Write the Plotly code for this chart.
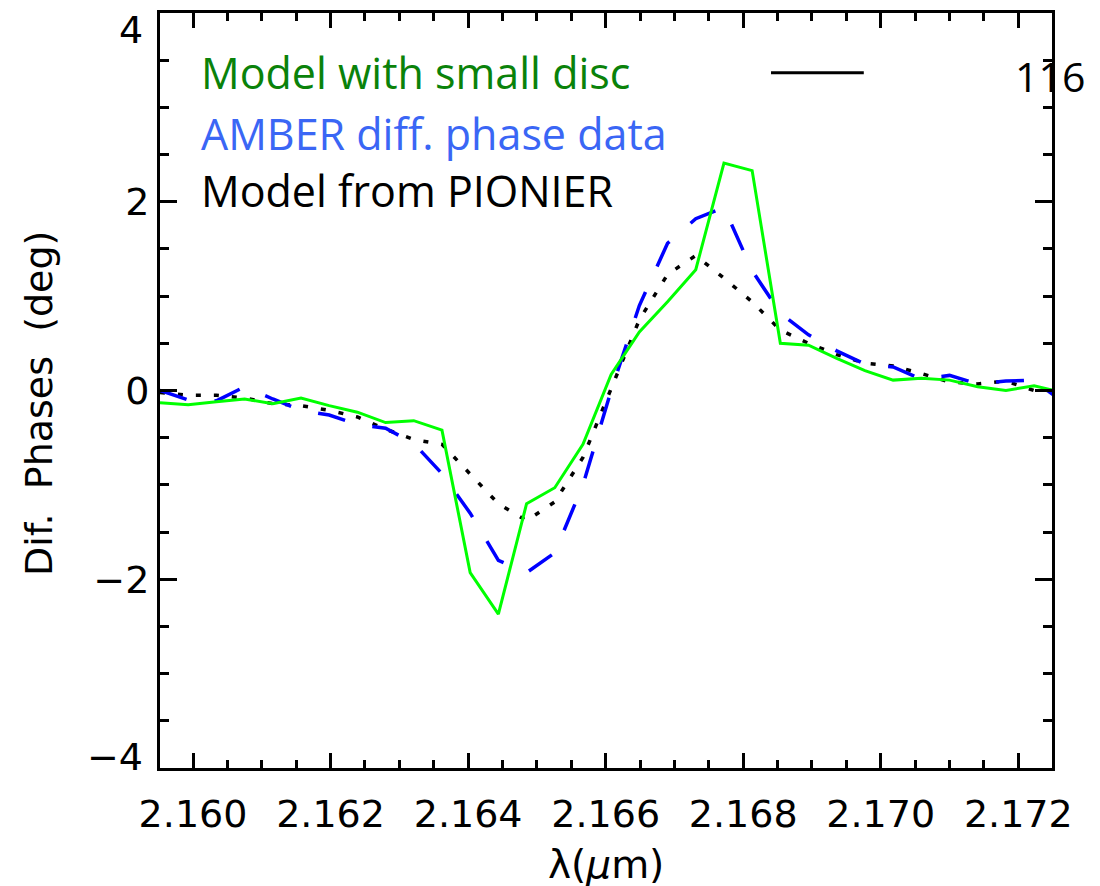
import plotly.graph_objects as go

# ---- data ----
wavelength_um = [2.15952, 2.15993, 2.16034, 2.16075, 2.16116, 2.16157, 2.16198, 2.16239,
                 2.16280, 2.16321, 2.16362, 2.16403, 2.16444, 2.16485, 2.16526, 2.16567,
                 2.16608, 2.16649, 2.16690, 2.16731, 2.16772, 2.16813, 2.16854, 2.16895,
                 2.16936, 2.16977, 2.17018, 2.17059, 2.17100, 2.17141, 2.17182, 2.17223,
                 2.17264]

model_small_disc = [-0.13, -0.15, -0.12, -0.09, -0.14, -0.08, -0.16, -0.23, -0.34, -0.32,
                    -0.42, -1.93, -2.37, -1.20, -1.03, -0.57, 0.17, 0.62, 0.94, 1.28,
                    2.41, 2.33, 0.50, 0.48, 0.34, 0.21, 0.11, 0.13, 0.11, 0.04,
                    0.00, 0.05, -0.02]

amber_data = [0.00, -0.10, -0.11, 0.04, -0.09, -0.21, -0.26, -0.36, -0.40, -0.56,
              -0.88, -1.30, -1.80, -1.93, -1.72, -1.00, 0.00, 0.90, 1.56, 1.82,
              1.94, 1.27, 0.82, 0.59, 0.42, 0.28, 0.25, 0.12, 0.16, 0.07,
              0.10, 0.11, -0.12]

model_pionier = [-0.02, -0.05, -0.05, -0.08, -0.14, -0.16, -0.21, -0.28, -0.41, -0.52,
                 -0.57, -0.89, -1.20, -1.38, -1.18, -0.71, 0.01, 0.75, 1.23, 1.43,
                 1.19, 0.94, 0.64, 0.50, 0.38, 0.29, 0.26, 0.18, 0.09, 0.07,
                 0.10, 0.00, 0.00]

x_ticks = [2.160, 2.162, 2.164, 2.166, 2.168, 2.170, 2.172]
y_ticks = [-4, -2, 0, 2, 4]
y_tick_text = ["", "\u22122", "0", "2", ""]

legend_labels = ["Model with small disc", "AMBER diff. phase data", "Model from PIONIER"]
legend_colors = ["#0a820a", "#3a66f5", "#000000"]

AXFONT = dict(family="DejaVu Sans", size=38, color="black")
TXTFONT = "Open Sans"

fig = go.Figure()
fig.add_trace(go.Scatter(x=wavelength_um, y=model_pionier, mode="lines",
                         line=dict(color="black", width=3.5, dash="5px,13px"),
                         showlegend=False))
fig.add_trace(go.Scatter(x=wavelength_um, y=amber_data, mode="lines",
                         line=dict(color="#0000ff", width=3.5, dash="28px,28px"),
                         showlegend=False))
fig.add_trace(go.Scatter(x=wavelength_um, y=model_small_disc, mode="lines",
                         line=dict(color="#00ff00", width=3),
                         showlegend=False))

axis_common = dict(showline=True, linewidth=3, linecolor="black", mirror="allticks",
                   ticks="inside", tickwidth=3, tickcolor="black", showgrid=False,
                   zeroline=False, tickfont=AXFONT)

fig.update_xaxes(range=[2.15952, 2.17249], tickvals=x_ticks, tickformat=".3f",
                 ticklen=15, ticklabelstandoff=10,
                 minor=dict(dtick=0.0005, tick0=2.160, ticks="inside", ticklen=8,
                            tickwidth=3, tickcolor="black", showgrid=False),
                 **axis_common)
fig.update_yaxes(range=[-4, 4], tickvals=y_ticks, ticktext=y_tick_text, ticklen=17,
                 minor=dict(dtick=0.5, tick0=0, ticks="inside", ticklen=9,
                            tickwidth=3, tickcolor="black", showgrid=False),
                 **axis_common)

annotations = []
# end tick labels of the y axis (drawn pulled inward, as in the reference)
annotations.append(dict(text="4", xref="paper", x=0, xanchor="right", xshift=-15,
                        yref="y", y=4, yanchor="middle", yshift=-17,
                        showarrow=False, font=AXFONT))
annotations.append(dict(text="\u22124", xref="paper", x=0, xanchor="right", xshift=-15,
                        yref="y", y=-4, yanchor="middle", yshift=11,
                        showarrow=False, font=AXFONT))
# axis titles
annotations.append(dict(text="Dif.\u00a0\u00a0Phases\u00a0\u00a0(deg)", textangle=-90,
                        xref="paper", x=-0.1357, xanchor="center",
                        yref="paper", y=0.4835, yanchor="middle",
                        showarrow=False, font=AXFONT))
annotations.append(dict(text="\u03bb(<i>\u03bc</i>m)", xref="paper", x=0.5, xanchor="center",
                        yref="paper", y=-0.128, yanchor="middle",
                        showarrow=False, font=dict(family="DejaVu Sans", size=39, color="black")))
# legend text
legend_y = [0.9215, 0.8404, 0.7652]
for lab, col, yy in zip(legend_labels, legend_colors, legend_y):
    annotations.append(dict(text=lab, xref="paper", x=0.044, xanchor="left",
                            yref="paper", y=yy, yanchor="middle", showarrow=False,
                            font=dict(family=TXTFONT, size=43, color=col)))
annotations.append(dict(text="116", xref="paper", x=0.9565, xanchor="left",
                        yref="paper", y=0.916, yanchor="middle", showarrow=False,
                        font=dict(family=TXTFONT, size=41, color="black")))

fig.update_layout(
    width=1100, height=886,
    margin=dict(l=160, r=48, t=10, b=118),
    paper_bgcolor="white", plot_bgcolor="white",
    annotations=annotations,
    shapes=[dict(type="line", xref="paper", yref="paper", x0=0.685, x1=0.789,
                 y0=0.921, y1=0.921, line=dict(color="black", width=3))],
)

fig.write_html("out.html")
